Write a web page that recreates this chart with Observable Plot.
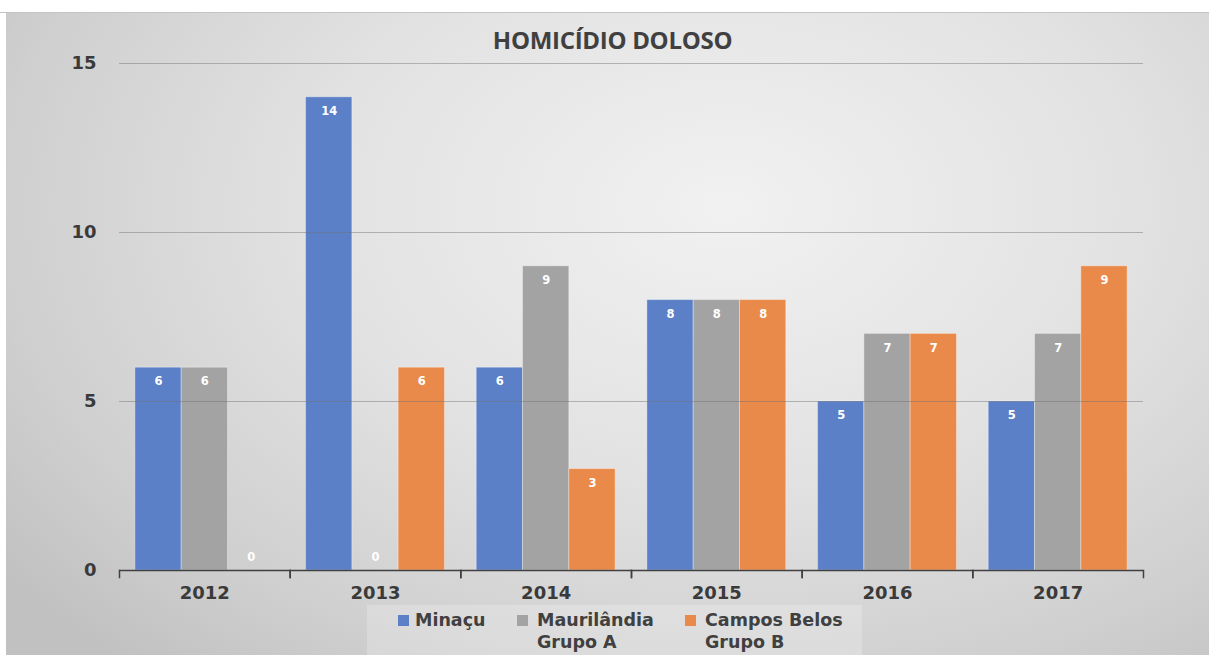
<!DOCTYPE html>
<html>
<head>
<meta charset="utf-8">
<script src="https://cdn.jsdelivr.net/npm/d3@7"></script>
<script src="https://cdn.jsdelivr.net/npm/@observablehq/plot@0.6"></script>
<style>
  html, body { margin: 0; padding: 0; background: #fff; width: 1209px; height: 655px; overflow: hidden; }
  #chart {
    position: absolute; left: 0; top: 12px; width: 1209px; height: 643px;
    border-top: 1px solid #c4c4c4; box-sizing: border-box;
    background:
      linear-gradient(to right, #ffffff 6px, transparent 6px),
      radial-gradient(ellipse 75% 95% at 60% 30%, #f1f1f1 0%, #e2e2e2 45%, #cfcfcf 80%, #c1c1c1 100%);
    font-family: "DejaVu Sans", sans-serif;
  }
  #title {
    height: 40px; box-sizing: border-box; padding-top: 15px; padding-left: 16px;
    text-align: center; font-family: "Open Sans", sans-serif; font-weight: 700;
    font-size: 24px; line-height: 24px; color: #404040; letter-spacing: -0.3px;
  }
  #plot svg { display: block; overflow: visible; }
  #legend { position: relative; height: 50px; }
  #legend .box { position: absolute; left: 367px; top: 0; width: 495px; height: 50px; background: rgba(255,255,255,0.22); }
  #legend .sw { position: absolute; top: 10px; width: 11px; height: 11px; }
  #legend .lbl { position: absolute; top: 4px; font-family: "DejaVu Sans", sans-serif; font-weight: 700;
    font-size: 17.5px; line-height: 22px; color: #404040; white-space: nowrap; }
</style>
</head>
<body>
<div id="chart">
  <div id="title"></div>
  <div id="plot"></div>
  <div id="legend"><div class="box"></div></div>
</div>
<script>
const title = "HOMICÍDIO DOLOSO";
const years = ["2012", "2013", "2014", "2015", "2016", "2017"];
const series = ["Minaçu", "Maurilândia Grupo A", "Campos Belos Grupo B"];
const minacu = [6, 14, 6, 8, 5, 5];
const maurilandia = [6, 0, 9, 8, 7, 7];
const camposBelos = [0, 6, 3, 8, 7, 9];
const yTicks = [0, 5, 10, 15];
const colors = ["#5b80c8", "#a3a3a3", "#ea8a4a"];

const values = [minacu, maurilandia, camposBelos];
const rows = [];
years.forEach((year, i) => {
  series.forEach((s, j) => rows.push({year, series: s, value: values[j][i]}));
});

document.getElementById("title").textContent = title;

const font = "DejaVu Sans, sans-serif";
const chart = Plot.plot({
  width: 1209,
  height: 552,
  marginLeft: 119,
  marginRight: 66,
  marginTop: 10,
  marginBottom: 35,
  style: {background: "transparent", fontFamily: font, overflow: "visible"},
  fx: {domain: years, padding: 0, round: false, label: null},
  x: {domain: series, axis: null, paddingInner: 0, paddingOuter: 0.343, round: false},
  y: {domain: [0, 15], label: null},
  color: {domain: series, range: colors},
  marks: [
    Plot.barY(rows, {fx: "year", x: "series", y: "value", fill: "series", stroke: "#ffffff", strokeOpacity: 0.35, strokeWidth: 1}),
    Plot.gridY(yTicks.filter(d => d > 0), {stroke: "#6f6f6f", strokeOpacity: 0.45, strokeWidth: 1}),
    Plot.ruleY([0], {stroke: "#404040", strokeWidth: 1.5}),
    Plot.frame({anchor: "left", stroke: "#404040", strokeWidth: 1.5, insetTop: 507, insetBottom: -7}),
    Plot.frame({anchor: "right", stroke: "#404040", strokeWidth: 1.5, insetTop: 507, insetBottom: -7}),
    Plot.text(rows.filter(d => d.value > 0), {fx: "year", x: "series", y: "value", text: d => String(d.value), dy: 14, fill: "#ffffff", fontWeight: "bold", fontSize: 11.5, fontFamily: font}),
    Plot.text(rows.filter(d => d.value === 0), {fx: "year", x: "series", y: "value", text: d => String(d.value), dy: -13, fill: "#ffffff", fontWeight: "bold", fontSize: 11.5, fontFamily: font}),
    Plot.axisY(yTicks, {tickSize: 0, tickPadding: 23, fontSize: 18, fontWeight: "bold", fill: "#3a3a3a", fontFamily: font, label: null}),
    Plot.axisFx({anchor: "bottom", tickSize: 0, tickPadding: 16, fontSize: 18, fontWeight: "bold", fill: "#3a3a3a", fontFamily: font, label: null})
  ]
});
document.getElementById("plot").appendChild(chart);

// legend
const legend = document.getElementById("legend");
const swatchX = [398, 517, 685];
const textX = [415, 537, 705];
series.forEach((s, i) => {
  const sw = document.createElement("div");
  sw.className = "sw";
  sw.style.left = swatchX[i] + "px";
  sw.style.background = colors[i];
  legend.appendChild(sw);
  const lbl = document.createElement("div");
  lbl.className = "lbl";
  lbl.style.left = textX[i] + "px";
  lbl.innerHTML = s.split(/ (?=Grupo)/).map(t => t.replace(/&/g, "&amp;").replace(/</g, "&lt;")).join("<br>");
  legend.appendChild(lbl);
});
</script>
</body>
</html>
